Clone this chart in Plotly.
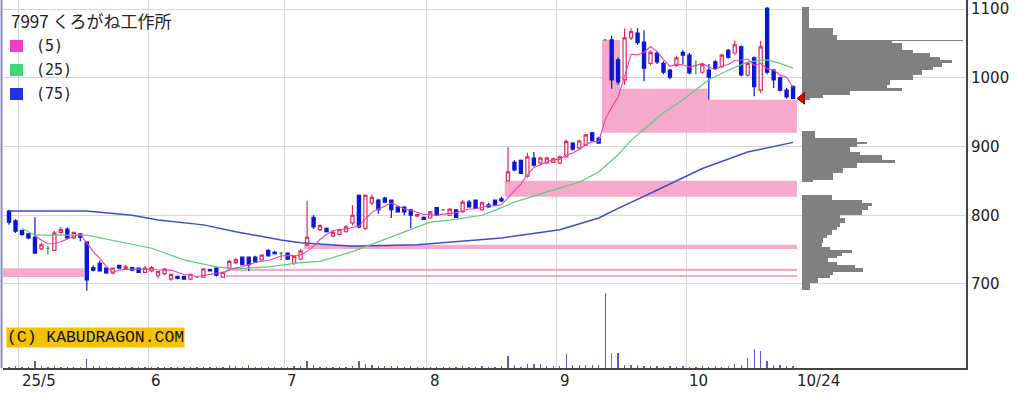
import plotly.graph_objects as go

# ---------------- data ----------------
title_text = "7997 くろがね工作所"
ma_labels = ["(5)", "(25)", "(75)"]
month_labels = ["25/5", "6", "7", "8", "9", "10"]
month_first_idx = [2, 22, 43, 65, 85, 105]     # trading-day index of first day of month
last_label = "10/24"
price_ticks = [700, 800, 900, 1000, 1100]

opens = [806, 792, 778, 773, 768, 751, 752, 749, 775, 780, 767, 773, 761, 724, 730, 723, 716, 727, 722, 724,
         723, 717, 719, 712, 715, 707, 711, 711, 707, 710, 710, 721, 723, 710, 723, 731, 739, 739, 739, 735,
         749, 746, 745, 745, 730, 736, 757, 797, 779, 781, 770, 772, 776, 789, 829, 781, 818, 822, 825, 822,
         812, 812, 808, 799, 797, 796, 811, 808, 800, 808, 805, 819, 822, 808, 815, 822, 824, 850, 877, 880,
         857, 883, 876, 876, 877, 876, 885, 905, 898, 902, 920, 912, 1055, 1055, 1026, 997, 1058, 1065, 1052, 1021,
         1036, 1021, 1011, 1018, 1037, 1033, 1018, 1008, 1011, 1023, 1016, 1040, 1036, 1045, 1004, 1029, 982, 1101, 1011, 1000,
         982, 987]
highs = [808, 794, 779, 774, 797, 760, 756, 777, 783, 782, 776, 774, 762, 727, 734, 724, 724, 728, 728, 725,
         724, 726, 726, 719, 723, 715, 712, 712, 715, 712, 723, 722, 725, 718, 735, 738, 740, 740, 741, 743,
         750, 748, 747, 746, 741, 751, 821, 800, 787, 782, 777, 780, 785, 815, 830, 830, 830, 824, 827, 823,
         813, 813, 809, 802, 798, 806, 812, 809, 810, 809, 822, 822, 823, 820, 818, 823, 827, 899, 880, 881,
         891, 892, 885, 885, 884, 887, 910, 906, 910, 918, 921, 914, 1055, 1061, 1030, 1072, 1072, 1072, 1069, 1040,
         1038, 1024, 1013, 1032, 1040, 1036, 1025, 1021, 1020, 1026, 1035, 1042, 1054, 1047, 1023, 1031, 1054, 1103, 1013, 1002,
         985, 989]
lows = [786, 774, 770, 765, 744, 749, 743, 748, 772, 765, 765, 762, 690, 718, 718, 715, 714, 722, 721, 719,
        716, 716, 717, 708, 713, 705, 707, 706, 706, 709, 709, 718, 711, 709, 722, 729, 727, 719, 731, 734,
        740, 743, 735, 735, 728, 735, 755, 780, 777, 775, 768, 771, 775, 785, 781, 779, 815, 802, 818, 796,
        804, 800, 781, 797, 793, 795, 799, 806, 799, 796, 804, 811, 809, 806, 811, 814, 819, 849, 864, 860,
        855, 871, 874, 874, 876, 874, 884, 894, 896, 901, 907, 904, 1055, 984, 990, 990, 1055, 1048, 995, 1018,
        1020, 1005, 998, 1016, 1020, 1005, 1005, 1006, 968, 1012, 1014, 1028, 1034, 1002, 1002, 973, 978, 1005, 985, 980,
        970, 969]
closes = [790, 777, 772, 767, 745, 757, 752, 774, 779, 767, 775, 768, 706, 720, 719, 716, 723, 723, 725, 720,
          717, 723, 724, 718, 722, 714, 708, 707, 714, 710, 722, 719, 713, 717, 733, 735, 728, 728, 732, 742,
          741, 744, 745, 736, 740, 748, 768, 783, 785, 776, 775, 779, 783, 800, 783, 829, 826, 808, 819, 808,
          805, 805, 800, 801, 794, 805, 800, 808, 809, 797, 819, 812, 810, 818, 812, 815, 821, 863, 866, 861,
          885, 873, 883, 883, 882, 885, 907, 896, 908, 917, 909, 905, 1055, 997, 994, 1058, 1067, 1051, 1014, 1037,
          1023, 1008, 1001, 1029, 1033, 1007, 1018, 1019, 1001, 1014, 1033, 1030, 1048, 1004, 1021, 987, 1045, 1008, 997, 982,
          972, 970]
# volume, thousand shares
volumes = [20, 25, 15, 20, 100, 30, 20, 25, 20, 15, 20, 15, 130, 30, 25, 20, 15, 15, 20, 15,
           15, 20, 20, 15, 20, 15, 15, 15, 20, 15, 20, 15, 20, 20, 40, 25, 20, 40, 20, 15,
           20, 15, 15, 20, 25, 30, 100, 45, 20, 20, 20, 15, 20, 30, 100, 60, 40, 30, 30, 25,
           25, 20, 25, 15, 15, 20, 20, 15, 20, 15, 25, 20, 20, 25, 20, 20, 25, 175, 40, 20,
           60, 55, 60, 30, 25, 35, 205, 45, 45, 45, 40, 45, 1100, 220, 220, 50, 45, 45, 25, 30,
           25, 20, 25, 20, 25, 15, 20, 30, 20, 30, 20, 30, 60, 45, 145, 280, 250, 100, 45, 45,
           25, 25]
vol_brown_idx = [93, 111]

# moving averages (index, value)
ma25_idx = [2, 4, 12, 22, 27, 32, 35, 40, 45, 48, 53, 57, 62, 65, 68, 73, 76, 78, 83, 88, 91, 94, 96,
            101, 104, 108, 111, 114, 117, 119, 121]
ma25_val = [781, 771, 771, 752, 735, 725, 722, 725, 731, 733, 747, 761, 779, 790, 793, 800, 811, 819, 834,
            848, 863, 888, 909, 949, 968, 997, 1011, 1023, 1026, 1021, 1014]
ma75_idx = [0, 12, 19, 23, 30, 35, 42, 45, 53, 63, 76, 85, 91, 94, 99, 107, 114, 121]
ma75_val = [806, 806, 800, 793, 786, 776, 764, 760, 755, 757, 767, 779, 796, 810, 832, 868, 892, 906]

# unfilled price gaps (start index, end index, low, high)
gap_x0 = [-1.0, 33.5, 33.5, 45.5, 76.5, 91.5, 94.3, 107.9]
gap_x1 = [11.6, 121.6, 121.6, 121.6, 121.6, 94.3, 107.9, 121.6]
gap_lo = [710, 719, 710, 751, 827, 920, 920, 920]
gap_hi = [723, 722, 713, 757, 850, 1055, 984, 968]

# volume-by-price profile (price bin low, high, relative volume)
prof_lo = [1072, 1062, 1055, 1053, 1051, 1040, 1036, 1030, 1026, 1021, 1016, 1011, 1004, 997, 989, 985, 981,
           975, 971, 968,
           912, 907, 904, 900, 892, 888, 880, 876, 869, 861, 851, 848,
           822, 818, 813, 808, 800, 796, 789, 783, 779, 771, 767, 760, 754, 749, 745, 741, 738, 732, 728,
           723, 717, 713, 709, 702, 691]
prof_hi = [1103, 1072, 1062, 1055, 1053, 1051, 1040, 1036, 1030, 1026, 1021, 1016, 1011, 1004, 997, 989, 985,
           981, 975, 971,
           922, 912, 907, 904, 900, 892, 888, 880, 876, 869, 861, 851,
           829, 822, 818, 813, 808, 800, 796, 789, 783, 779, 771, 767, 760, 754, 749, 745, 741, 738, 732,
           728, 723, 717, 713, 709, 702]
prof_vol = [7, 31, 35, 161, 90, 100, 111, 128, 138, 150, 140, 131, 120, 111, 88, 85, 100, 48, 21, 8,
            13, 55, 65, 55, 48, 58, 80, 93, 55, 41, 31, 11,
            30, 60, 70, 66, 60, 38, 43, 38, 35, 30, 25, 21, 20, 28, 50, 40, 35, 26, 35,
            53, 61, 31, 28, 16, 8]
last_price = 970

# ---------------- colours ----------------
RED = "#e8285c"
BLUE = "#0a16d6"
GREEN = "#1f9a3c"
PINK_GAP = "#f5a9cb"
GRID = "#d8d8d8"

n = len(closes)
idx = list(range(n))
up = [i for i in idx if closes[i] > opens[i]]
dn = [i for i in idx if closes[i] < opens[i]]
dj = [i for i in idx if closes[i] == opens[i]]

ma5_idx = idx[4:]
ma5_val = [sum(closes[i - 4:i + 1]) / 5 for i in ma5_idx]

fig = go.Figure()

# volume bars (bottom)
fig.add_trace(go.Bar(x=idx, y=volumes, yaxis="y2", width=0.2,
                     marker=dict(color=["#b0705e" if i in vol_brown_idx else "#5a5ad0" for i in idx],
                                 line=dict(width=0)),
                     hoverinfo="skip"))

# moving averages
fig.add_trace(go.Scatter(x=ma75_idx, y=ma75_val, mode="lines", line=dict(color="#3d4fc8", width=1.5),
                         hoverinfo="skip"))
fig.add_trace(go.Scatter(x=ma25_idx, y=ma25_val, mode="lines", line=dict(color="#5ccc80", width=1.2),
                         hoverinfo="skip"))
fig.add_trace(go.Scatter(x=ma5_idx, y=ma5_val, mode="lines", line=dict(color="#ee3fb0", width=1.1),
                         hoverinfo="skip"))


def candle(sel, line_col, fill_col):
    return go.Candlestick(
        x=sel, open=[opens[i] for i in sel], high=[highs[i] for i in sel],
        low=[lows[i] for i in sel], close=[closes[i] for i in sel],
        increasing=dict(line=dict(color=line_col, width=1.2), fillcolor=fill_col),
        decreasing=dict(line=dict(color=line_col, width=1.2), fillcolor=fill_col),
        whiskerwidth=0, hoverinfo="skip")


fig.add_trace(candle(up, RED, "white"))
fig.add_trace(candle(dn, BLUE, BLUE))
fig.add_trace(candle(dj, GREEN, GREEN))

# volume-by-price profile
fig.add_trace(go.Bar(orientation="h", xaxis="x2", yaxis="y",
                     y=[(a + b) / 2 for a, b in zip(prof_lo, prof_hi)],
                     width=[b - a for a, b in zip(prof_lo, prof_hi)],
                     x=prof_vol, marker=dict(color="#808080", line=dict(width=0)),
                     hoverinfo="skip"))
# last price marker
fig.add_trace(go.Scatter(x=[0], y=[last_price], xaxis="x2", yaxis="y", mode="markers",
                         marker=dict(symbol="triangle-left", size=10, color="#e00000",
                                     line=dict(color="#7a0000", width=1)),
                         cliponaxis=False, hoverinfo="skip"))

shapes = []
for a, b, lo, hi in zip(gap_x0, gap_x1, gap_lo, gap_hi):
    shapes.append(dict(type="rect", xref="x", yref="y", x0=a, x1=b, y0=lo, y1=hi,
                       fillcolor=PINK_GAP, line=dict(width=0), layer="between"))

# left border line
shapes.append(dict(type="line", xref="paper", yref="paper", x0=-0.0015, x1=-0.0015, y0=0, y1=1,
                   line=dict(color="#8a8ad0", width=2)))

# legend squares
PW, PH = 963.0, 368.0
def px(xp):
    return (xp - 3) / PW
def py(yp):
    return 1 - yp / PH

leg_cols = ["#ee3fc8", "#44d67a", "#2233e8"]
leg_y = [46, 70, 94]
for c, yc in zip(leg_cols, leg_y):
    shapes.append(dict(type="rect", xref="paper", yref="paper", x0=px(10), x1=px(23),
                       y0=py(yc + 6), y1=py(yc - 6), fillcolor=c, line=dict(width=0)))

annotations = [
    dict(text=title_text, xref="paper", yref="paper", x=px(9), y=py(20), xanchor="left", yanchor="middle",
         showarrow=False, font=dict(family="Noto Sans CJK JP", size=17, color="#222")),
]
for t, yc in zip(ma_labels, leg_y):
    annotations.append(dict(text=t, xref="paper", yref="paper", x=px(34), y=py(yc), xanchor="left",
                            yanchor="middle", showarrow=False,
                            font=dict(family="DejaVu Sans Mono", size=15, color="#222")))
annotations.append(dict(text="(C) KABUDRAGON.COM", xref="paper", yref="paper", x=px(6), y=py(337.5),
                        xanchor="left", yanchor="middle", showarrow=False, bgcolor="#f5c200",
                        borderpad=0, font=dict(family="Liberation Mono", size=16.4, color="#111")))
for t, m in zip(month_labels, month_first_idx):
    annotations.append(dict(text=t, xref="x", yref="paper", x=m - 0.5, y=0, xanchor="left", yanchor="top",
                            xshift=1, yshift=-2, showarrow=False,
                            font=dict(family="DejaVu Sans", size=15, color="#222")))
annotations.append(dict(text=last_label, xref="x", yref="paper", x=n - 1, y=0, xanchor="left", yanchor="top",
                        xshift=2, yshift=-2, showarrow=False,
                        font=dict(family="DejaVu Sans", size=15, color="#222")))

fig.update_layout(
    width=1036, height=394, margin=dict(l=3, r=70, t=0, b=26),
    paper_bgcolor="white", plot_bgcolor="white", showlegend=False, hovermode=False,
    shapes=shapes, annotations=annotations, bargap=0,
    xaxis=dict(range=[-0.93, 147.69], tickvals=[m - 0.5 for m in month_first_idx], showticklabels=False,
               ticks="", showgrid=True, gridcolor=GRID, gridwidth=1, zeroline=False,
               showline=True, linecolor="#454545", linewidth=2, rangeslider=dict(visible=False)),
    xaxis2=dict(domain=[px(802), 1.0], range=[0, 164], visible=False, anchor="y", fixedrange=True),
    yaxis=dict(range=[577.8, 1113.1], side="right", tickvals=price_ticks, showgrid=True, gridcolor=GRID,
               gridwidth=1, zeroline=False, showline=True, linecolor="#454545", linewidth=2,
               ticks="inside", ticklen=4, tickcolor="#454545",
               tickfont=dict(family="DejaVu Sans", size=15, color="#222")),
    yaxis2=dict(overlaying="y", range=[0, 5400], visible=False),
)

fig.write_html("out.html", config={"displayModeBar": False, "staticPlot": True},
               post_script="document.body.style.margin='0px';")
